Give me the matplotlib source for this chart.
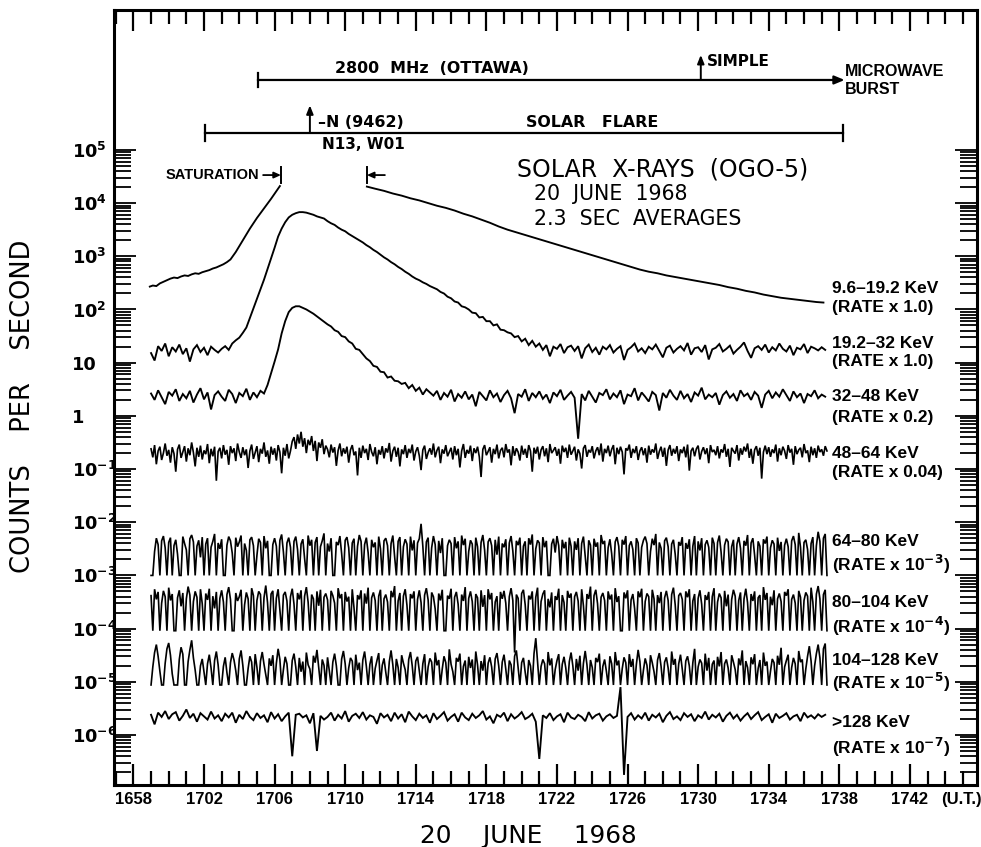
"""Solar X-ray counting rates (OGO-5) through the flare of 20 June 1968."""

import matplotlib

matplotlib.use("Agg")
import matplotlib.pyplot as plt
import numpy as np
from matplotlib.ticker import FixedLocator

# Time is measured in minutes after 1700 UT.
XTICKS = [-2, 2, 6, 10, 14, 18, 22, 26, 30, 34, 38, 42]
XTICK_LABELS = ["1658", "1702", "1706", "1710", "1714", "1718",
                "1722", "1726", "1730", "1734", "1738", "1742"]
YTICKS = [1e5, 1e4, 1e3, 1e2, 1e1, 1e0, 1e-1, 1e-2, 1e-3, 1e-4, 1e-5, 1e-6]
YTICK_LABELS = [r"$\mathbf{10}^{\mathbf{5}}$", r"$\mathbf{10}^{\mathbf{4}}$",
                r"$\mathbf{10}^{\mathbf{3}}$", r"$\mathbf{10}^{\mathbf{2}}$",
                "10", "1",
                r"$\mathbf{10}^{\mathbf{-1}}$", r"$\mathbf{10}^{\mathbf{-2}}$",
                r"$\mathbf{10}^{\mathbf{-3}}$", r"$\mathbf{10}^{\mathbf{-4}}$",
                r"$\mathbf{10}^{\mathbf{-5}}$", r"$\mathbf{10}^{\mathbf{-6}}$"]

# Event timing (minutes after 1700 UT)
BURST_START, BURST_END, BURST_SIMPLE = 5.05, 38.3, 30.15
FLARE_START, FLARE_END, FLARE_MARK = 2.05, 38.2, 8.0
SAT_START, SAT_END = 6.36, 11.23

# 9.6-19.2 keV channel, log10 counts/s; saturated between the two segments
T_RISE = [-1.07, -0.9, -0.7, -0.5, -0.3, -0.1, 0.1, 0.3, 0.5, 0.7, 0.9, 1.1,
          1.3, 1.5, 1.7, 1.9, 2.1, 2.3, 2.5, 2.7, 2.9, 3.1, 3.3, 3.5, 3.8,
          4.2, 4.6, 5.0, 5.4, 5.8, 6.3]
LOG_RISE = [2.43, 2.45, 2.44, 2.49, 2.52, 2.55, 2.58, 2.60, 2.59, 2.62, 2.64,
            2.63, 2.66, 2.68, 2.67, 2.70, 2.72, 2.74, 2.77, 2.79, 2.82, 2.85,
            2.89, 2.94, 3.08, 3.30, 3.52, 3.72, 3.90, 4.08, 4.32]
T_DECAY = [11.23, 11.7, 12.2, 12.7, 13.2, 13.7, 14.2, 14.7, 15.2, 15.7, 16.2,
           16.7, 17.2, 17.7, 18.2, 18.7, 19.2, 19.7, 20.2, 20.7, 21.2, 21.7,
           22.2, 22.7, 23.2, 23.7, 24.2, 24.7, 25.2, 25.7, 26.2, 26.7, 27.2,
           27.7, 28.2, 28.7, 29.2, 29.7, 30.2, 30.7, 31.2, 31.7, 32.2, 32.7,
           33.2, 33.7, 34.2, 34.7, 35.2, 35.7, 36.2, 36.7, 37.1]
LOG_DECAY = [4.31, 4.27, 4.23, 4.18, 4.14, 4.09, 4.05, 4.00, 3.95, 3.91, 3.86,
             3.80, 3.75, 3.69, 3.63, 3.56, 3.50, 3.45, 3.40, 3.35, 3.30, 3.25,
             3.20, 3.15, 3.10, 3.05, 3.00, 2.95, 2.90, 2.85, 2.80, 2.75, 2.71,
             2.68, 2.64, 2.61, 2.58, 2.55, 2.52, 2.49, 2.46, 2.42, 2.39, 2.35,
             2.32, 2.28, 2.25, 2.22, 2.20, 2.18, 2.16, 2.14, 2.13]

# Remaining channels, log10 of scaled rate, sampled from 1659 onward:
# every 0.2 min for the first group, every 0.1 min for the noisier ones.
T0, DT, DT_FINE = -1.0, 0.2, 0.1

LOG_19_32 = [
    1.18, 1.04, 1.31, 1.22, 1.36, 1.12, 1.29, 1.21, 1.34, 1.16,
    1.27, 1.02, 1.25, 1.33, 1.20, 1.28, 1.14, 1.30, 1.24, 1.19,
    1.26, 1.31, 1.24, 1.36, 1.42, 1.47, 1.56, 1.66, 1.84, 2.02,
    2.20, 2.38, 2.56, 2.76, 2.96, 3.16, 3.37, 3.52, 3.64, 3.73,
    3.78, 3.81, 3.83, 3.83, 3.82, 3.80, 3.78, 3.75, 3.73, 3.71,
    3.66, 3.62, 3.59, 3.54, 3.50, 3.47, 3.42, 3.38, 3.34, 3.30,
    3.26, 3.21, 3.17, 3.12, 3.08, 3.03, 2.98, 2.94, 2.89, 2.85,
    2.80, 2.76, 2.71, 2.67, 2.62, 2.58, 2.55, 2.51, 2.48, 2.44,
    2.41, 2.38, 2.33, 2.30, 2.24, 2.21, 2.15, 2.13, 2.06, 2.04,
    2.00, 1.94, 1.93, 1.85, 1.86, 1.78, 1.78, 1.70, 1.72, 1.62,
    1.61, 1.57, 1.55, 1.48, 1.50, 1.40, 1.45, 1.33, 1.41, 1.30,
    1.36, 1.24, 1.33, 1.12, 1.30, 1.26, 1.35, 1.18, 1.29, 1.32,
    1.22, 1.31, 1.08, 1.27, 1.34, 1.20, 1.28, 1.15, 1.30, 1.25,
    1.33, 1.19, 1.26, 1.31, 1.05, 1.24, 1.29, 1.36, 1.21, 1.27,
    1.18, 1.30, 1.25, 1.34, 1.22, 1.10, 1.28, 1.32, 1.19, 1.26,
    1.31, 1.23, 1.37, 1.15, 1.27, 1.29, 1.20, 1.33, 1.06, 1.25,
    1.28, 1.35, 1.21, 1.26, 1.32, 1.17, 1.24, 1.30, 1.38, 1.22,
    1.09, 1.27, 1.31, 1.24, 1.34, 1.19, 1.29, 1.23, 1.36, 1.26,
    1.21, 1.32, 1.14, 1.28, 1.25, 1.35, 1.18, 1.30, 1.27, 1.23,
    1.29, 1.24,
]

LOG_32_48 = [
    0.42, 0.30, 0.48, 0.35, 0.22, 0.45, 0.38, 0.50, 0.28, 0.41,
    0.33, 0.47, 0.25, 0.40, 0.52, 0.31, 0.44, 0.12, 0.39, 0.46,
    0.36, 0.28, 0.49, 0.41, 0.24, 0.43, 0.37, 0.51, 0.30, 0.44,
    0.35, 0.47, 0.42, 0.58, 0.80, 1.02, 1.25, 1.55, 1.78, 1.95,
    2.03, 2.06, 2.06, 2.03, 2.00, 1.96, 1.92, 1.87, 1.82, 1.77,
    1.72, 1.68, 1.61, 1.58, 1.50, 1.48, 1.40, 1.36, 1.26, 1.24,
    1.16, 1.08, 1.03, 0.94, 0.92, 0.83, 0.82, 0.72, 0.74, 0.66,
    0.65, 0.60, 0.62, 0.52, 0.58, 0.47, 0.53, 0.40, 0.50, 0.44,
    0.38, 0.47, 0.30, 0.43, 0.36, 0.49, 0.27, 0.41, 0.34, 0.46,
    0.31, 0.40, 0.18, 0.45, 0.37, 0.29, 0.48, 0.35, 0.42, 0.26,
    0.39, 0.47, 0.33, 0.05, 0.41, 0.36, 0.50, 0.28, 0.43, 0.35,
    0.46, 0.32, 0.40, 0.24, 0.44, 0.37, 0.49, 0.30, 0.38, 0.45,
    0.34, -0.43, 0.41, 0.29, 0.47, 0.36, 0.25, 0.43, 0.39, 0.50,
    0.31, 0.42, 0.35, 0.48, 0.22, 0.40, 0.37, 0.52, 0.29, 0.44,
    0.36, 0.27, 0.45, 0.39, 0.10, 0.43, 0.34, 0.49, 0.38, 0.30,
    0.47, 0.33, 0.41, 0.26, 0.44, 0.38, 0.53, 0.31, 0.40, 0.35,
    0.43, 0.21, 0.39, 0.46, 0.34, 0.41, 0.28, 0.48, 0.37, 0.42,
    0.30, 0.45, 0.38, 0.15, 0.40, 0.47, 0.33, 0.44, 0.36, 0.50,
    0.39, 0.28, 0.46, 0.35, 0.42, 0.24, 0.41, 0.37, 0.48, 0.33,
    0.40, 0.36,
]

LOG_ABOVE_128 = [
    -5.62, -5.80, -5.58, -5.66, -5.55, -5.70, -5.61, -5.57, -5.73, -5.64,
    -5.52, -5.68, -5.60, -5.75, -5.59, -5.65, -5.71, -5.56, -5.69, -5.63,
    -5.74, -5.60, -5.67, -5.58, -5.77, -5.62, -5.70, -5.55, -5.66, -5.72,
    -5.59, -5.68, -5.63, -5.76, -5.57, -5.69, -5.61, -5.74, -5.65, -5.58,
    -6.40, -5.62, -5.60, -5.67, -5.63, -5.78, -5.59, -6.30, -5.64, -5.71,
    -5.66, -5.58, -5.73, -5.62, -5.69, -5.55, -5.75, -5.64, -5.60, -5.68,
    -5.57, -5.71, -5.63, -5.66, -5.79, -5.59, -5.67, -5.62, -5.74, -5.58,
    -5.69, -5.61, -5.76, -5.56, -5.65, -5.72, -5.60, -5.68, -5.63, -5.77,
    -5.59, -5.70, -5.64, -5.57, -5.73, -5.66, -5.61, -5.75, -5.58, -5.67,
    -5.72, -5.60, -5.68, -5.63, -5.55, -5.71, -5.65, -5.78, -5.62, -5.66,
    -5.58, -5.74, -5.61, -5.69, -5.64, -5.57, -5.70, -5.66, -5.60, -5.75,
    -6.45, -5.63, -5.68, -5.59, -5.72, -5.65, -5.61, -5.76, -5.58, -5.67,
    -5.70, -5.62, -5.66, -5.74, -5.57, -5.69, -5.63, -5.60, -5.73, -5.65,
    -5.61, -5.68, -5.64, -5.10, -6.75, -5.66, -5.59, -5.71, -5.63, -5.69,
    -5.58, -5.73, -5.62, -5.67, -5.60, -5.76, -5.64, -5.57, -5.70, -5.65,
    -5.72, -5.59, -5.66, -5.61, -5.74, -5.63, -5.68, -5.56, -5.71, -5.62,
    -5.67, -5.60, -5.75, -5.64, -5.58, -5.69, -5.62, -5.73, -5.65, -5.59,
    -5.70, -5.63, -5.57, -5.72, -5.66, -5.61, -5.77, -5.60, -5.68, -5.64,
    -5.59, -5.71, -5.65, -5.62, -5.74, -5.58, -5.67, -5.63, -5.69, -5.61,
    -5.66, -5.62,
]

LOG_48_64 = [
    -0.62, -0.78, -0.55, -0.91, -0.66, -0.58, -0.83, -0.70, -0.52, -0.75,
    -0.64, -0.88, -0.59, -0.71, -1.05, -0.63, -0.54, -0.79, -0.68, -0.57,
    -0.86, -0.61, -0.74, -0.50, -0.69, -0.95, -0.60, -0.77, -0.56, -0.82,
    -0.65, -0.72, -0.53, -0.89, -0.62, -0.76, -0.58, -1.22, -0.67, -0.60,
    -0.80, -0.55, -0.73, -0.64, -0.92, -0.57, -0.70, -0.61, -0.85, -0.52,
    -0.68, -0.79, -0.59, -0.74, -0.63, -0.98, -0.66, -0.54, -0.81, -0.69,
    -0.57, -0.87, -0.62, -0.71, -0.50, -0.77, -0.65, -0.90, -0.58, -0.73,
    -0.61, -0.84, -0.55, -0.68, -1.08, -0.60, -0.75, -0.53, -0.80, -0.66,
    -0.48, -0.40, -0.62, -0.35, -0.52, -0.30, -0.58, -0.42, -0.70, -0.45,
    -0.55, -0.38, -0.66, -0.47, -0.85, -0.50, -0.60, -0.44, -0.72, -0.56,
    -0.63, -0.78, -0.54, -0.69, -0.59, -0.94, -0.65, -0.52, -0.76, -0.61,
    -0.71, -0.58, -0.88, -0.64, -0.55, -0.74, -0.67, -1.12, -0.60, -0.79,
    -0.56, -0.70, -0.62, -0.83, -0.53, -0.68, -0.76, -0.59, -0.91, -0.64,
    -0.73, -0.57, -0.80, -0.61, -0.69, -0.51, -0.86, -0.66, -0.58, -0.77,
    -0.60, -0.95, -0.63, -0.72, -0.55, -0.79, -0.62, -0.70, -0.54, -0.84,
    -0.67, -0.59, -0.75, -1.02, -0.64, -0.56, -0.81, -0.69, -0.61, -0.73,
    -0.52, -0.78, -0.65, -0.58, -0.89, -0.63, -0.71, -0.55, -0.76, -0.68,
    -0.60, -0.82, -0.57, -0.74, -0.62, -0.97, -0.66, -0.53, -0.79, -0.64,
    -0.71, -0.56, -0.85, -0.61, -0.70, -0.58, -0.77, -1.15, -0.63, -0.55,
    -0.74, -0.67, -0.59, -0.88, -0.62, -0.72, -0.54, -0.80, -0.65, -0.60,
    -0.78, -0.53, -0.69, -0.63, -0.93, -0.57, -0.75, -0.61, -0.68, -0.84,
    -0.56, -0.73, -0.62, -0.79, -0.55, -0.66, -1.05, -0.60, -0.71, -0.58,
    -0.82, -0.64, -0.57, -0.76, -0.61, -0.87, -0.53, -0.70, -0.65, -0.59,
    -0.75, -0.62, -0.90, -0.56, -0.68, -0.60, -0.79, -0.54, -0.73, -0.66,
    -0.58, -0.84, -0.63, -0.71, -0.99, -0.61, -0.55, -0.77, -0.64, -0.69,
    -0.57, -0.80, -0.66, -0.59, -0.74, -0.52, -0.86, -0.62, -0.70, -0.56,
    -0.76, -0.63, -0.55, -0.91, -0.60, -0.72, -0.58, -0.68, -1.10, -0.61,
    -0.65, -0.54, -0.79, -0.62, -0.70, -0.57, -0.83, -0.66, -0.59, -0.74,
    -0.61, -0.88, -0.56, -0.73, -0.63, -0.69, -0.52, -0.81, -0.67, -0.58,
    -0.77, -0.60, -0.94, -0.64, -0.55, -0.75, -0.62, -0.71, -0.57, -0.85,
    -0.63, -0.70, -0.58, -0.78, -0.54, -1.03, -0.66, -0.60, -0.76, -0.62,
    -0.56, -0.82, -0.67, -0.59, -0.72, -0.61, -0.89, -0.55, -0.68, -0.64,
    -0.74, -0.57, -0.80, -0.63, -0.69, -0.53, -0.77, -0.62, -0.96, -0.60,
    -0.66, -0.71, -0.55, -0.84, -0.61, -0.73, -0.58, -0.67, -0.52, -0.79,
    -0.62, -0.90, -0.64, -0.57, -0.75, -0.60, -1.18, -0.68, -0.56, -0.72,
    -0.59, -0.77, -0.63, -0.70, -0.54, -0.86, -0.61, -0.74, -0.58, -0.66,
    -0.81, -0.55, -0.69, -0.62, -0.92, -0.57, -0.72, -0.64, -0.60, -0.78,
    -0.53, -0.70, -0.65, -0.87, -0.58, -0.74, -0.61, -0.79, -0.56, -0.68,
    -0.63, -0.75, -0.57, -0.66,
]

LOG_64_80 = [
    -3.00, -3.00, -2.55, -2.30, -2.42, -3.00, -2.35, -2.26, -2.48, -3.00,
    -2.38, -2.29, -3.00, -2.44, -2.33, -2.60, -3.00, -3.00, -2.27, -2.40,
    -2.52, -3.00, -2.31, -2.24, -2.37, -3.00, -2.45, -2.34, -2.66, -2.28,
    -3.00, -2.41, -2.30, -3.00, -2.47, -2.36, -2.22, -3.00, -2.39, -2.50,
    -2.32, -3.00, -3.00, -2.43, -2.27, -2.35, -2.58, -3.00, -2.29, -2.46,
    -2.37, -2.25, -3.00, -2.40, -2.53, -3.00, -2.33, -2.28, -2.44, -3.00,
    -2.62, -2.31, -2.38, -3.00, -2.26, -2.49, -2.35, -3.00, -3.00, -2.42,
    -2.30, -2.45, -3.00, -2.34, -2.23, -2.56, -3.00, -2.39, -2.29, -2.47,
    -3.00, -2.36, -2.27, -2.51, -3.00, -2.41, -2.32, -2.68, -3.00, -2.25,
    -2.44, -2.33, -3.00, -2.38, -2.28, -3.00, -2.46, -2.35, -2.21, -3.00,
    -2.40, -2.55, -2.30, -3.00, -3.00, -2.37, -2.43, -2.26, -2.59, -3.00,
    -2.34, -2.28, -2.48, -3.00, -2.39, -2.31, -3.00, -2.45, -2.24, -2.36,
    -3.00, -2.42, -2.29, -2.57, -3.00, -2.33, -2.47, -2.38, -3.00, -2.27,
    -2.50, -3.00, -2.35, -2.30, -2.44, -3.00, -2.40, -2.25, -2.64, -3.00,
    -2.36, -2.28, -3.00, -2.46, -2.32, -2.41, -3.00, -2.27, -2.53, -2.34,
    -3.00, -2.39, -2.31, -2.03, -2.45, -3.00, -2.37, -2.29, -3.00, -2.48,
    -2.26, -2.42, -3.00, -2.35, -2.58, -2.30, -3.00, -3.00, -2.44, -2.33,
    -2.40, -3.00, -2.28, -2.49, -2.36, -3.00, -2.25, -2.43, -2.31, -3.00,
    -2.55, -2.34, -2.41, -3.00, -2.29, -2.46, -3.00, -2.38, -2.24, -2.52,
    -3.00, -2.37, -2.30, -2.44, -3.00, -2.33, -2.61, -2.27, -3.00, -2.40,
    -2.47, -2.32, -3.00, -2.39, -2.26, -2.54, -3.00, -2.35, -2.43, -2.29,
    -3.00, -2.45, -2.36, -3.00, -2.30, -2.42, -2.23, -3.00, -2.50, -2.34,
    -2.39, -3.00, -2.28, -2.47, -2.35, -3.00, -3.00, -2.41, -2.31, -2.57,
    -2.26, -2.44, -3.00, -2.33, -2.49, -2.37, -3.00, -2.29, -2.45, -3.00,
    -2.36, -2.52, -2.30, -3.00, -2.40, -2.27, -2.63, -3.00, -2.34, -2.43,
    -3.00, -2.31, -2.46, -2.38, -3.00, -2.24, -2.41, -2.35, -3.00, -2.48,
    -2.32, -2.59, -3.00, -2.37, -2.28, -2.45, -3.00, -2.33, -2.42, -2.26,
    -3.00, -2.44, -2.36, -2.51, -3.00, -2.30, -2.39, -3.00, -2.47, -2.34,
    -2.27, -2.40, -3.00, -2.55, -2.31, -2.43, -2.22, -3.00, -2.38, -2.49,
    -3.00, -2.35, -2.29, -2.46, -3.00, -2.41, -2.33, -2.60, -3.00, -2.37,
    -2.44, -2.28, -3.00, -2.39, -2.50, -2.32, -3.00, -2.45, -2.26, -3.00,
    -2.36, -2.53, -2.30, -3.00, -2.42, -2.34, -2.47, -3.00, -2.29, -2.40,
    -3.00, -2.38, -2.25, -2.56, -3.00, -2.43, -2.31, -2.37, -3.00, -2.46,
    -2.33, -3.00, -2.41, -2.28, -2.49, -3.00, -2.35, -2.44, -2.24, -3.00,
    -2.39, -2.30, -2.62, -3.00, -2.36, -2.45, -3.00, -2.32, -2.40, -2.27,
    -3.00, -2.48, -2.34, -2.41, -3.00, -2.29, -2.54, -2.37, -3.00, -2.43,
    -2.31, -2.46, -3.00, -2.35, -2.26, -2.42, -3.00, -2.20, -2.47, -3.00,
    -2.38, -2.33, -2.51, -3.00, -2.40, -2.28, -3.00, -2.44, -2.18, -2.36,
    -3.00, -2.30, -2.22, -3.00,
]

LOG_80_104 = [
    -3.38, -4.04, -3.26, -3.45, -3.31, -4.04, -3.52, -3.29, -3.40, -4.04,
    -3.23, -3.47, -3.35, -4.04, -4.04, -3.42, -3.28, -3.58, -3.33, -4.04,
    -3.44, -3.21, -3.37, -4.04, -3.49, -3.30, -3.41, -4.04, -3.26, -3.53,
    -4.04, -3.34, -3.46, -3.25, -4.04, -3.39, -3.62, -3.31, -4.04, -3.43,
    -3.28, -3.50, -4.04, -3.36, -3.22, -3.45, -4.04, -4.04, -3.33, -3.48,
    -3.40, -3.27, -4.04, -3.55, -3.32, -3.44, -4.04, -3.24, -3.38, -4.04,
    -3.47, -3.30, -3.36, -4.04, -3.42, -3.19, -3.51, -4.04, -3.35, -3.29,
    -4.04, -3.43, -3.26, -3.66, -4.04, -3.37, -3.31, -3.48, -4.04, -3.40,
    -3.25, -3.54, -4.04, -3.33, -3.45, -3.28, -4.04, -3.39, -3.22, -3.50,
    -4.04, -3.36, -3.44, -4.04, -3.30, -3.57, -3.27, -4.04, -3.41, -3.34,
    -3.46, -4.04, -3.29, -3.38, -3.52, -4.04, -3.24, -3.43, -3.35, -4.04,
    -3.31, -3.49, -3.40, -4.04, -3.26, -3.61, -4.04, -3.37, -3.45, -3.28,
    -4.04, -3.34, -3.53, -3.23, -4.04, -3.42, -3.32, -3.47, -4.04, -3.39,
    -3.27, -4.04, -3.44, -3.36, -3.50, -4.04, -3.29, -3.41, -3.20, -4.04,
    -3.48, -3.33, -4.04, -3.39, -3.26, -3.56, -4.04, -3.35, -3.43, -3.30,
    -4.04, -3.45, -3.28, -3.51, -4.04, -3.37, -3.24, -3.46, -4.04, -3.32,
    -3.40, -3.63, -4.04, -3.34, -3.47, -3.27, -4.04, -4.04, -3.38, -3.44,
    -3.25, -4.04, -3.41, -3.31, -3.54, -4.04, -3.36, -3.48, -3.22, -4.04,
    -3.43, -3.30, -3.49, -4.04, -3.35, -3.42, -4.04, -3.28, -3.59, -3.37,
    -4.04, -3.26, -3.45, -3.33, -4.04, -3.50, -3.39, -4.04, -3.31, -3.44,
    -3.29, -3.52, -4.04, -3.40, -3.24, -3.47, -4.45, -3.36, -3.43, -4.04,
    -3.34, -3.27, -3.55, -4.04, -3.38, -3.45, -3.30, -4.04, -3.41, -3.23,
    -4.04, -3.49, -3.35, -3.28, -4.04, -3.44, -3.60, -3.32, -4.04, -3.39,
    -3.46, -3.25, -4.04, -3.37, -3.51, -4.04, -3.29, -3.42, -3.34, -4.04,
    -3.40, -3.31, -3.48, -4.04, -3.26, -3.57, -4.04, -3.35, -3.44, -3.21,
    -4.04, -3.38, -3.27, -3.53, -4.04, -3.41, -3.33, -3.47, -4.04, -3.30,
    -3.45, -3.36, -4.04, -3.24, -3.50, -3.39, -4.04, -4.04, -3.32, -3.43,
    -3.28, -4.04, -3.46, -3.35, -3.62, -4.04, -3.30, -3.41, -3.25, -4.04,
    -3.49, -3.34, -3.40, -4.04, -3.27, -3.44, -4.04, -3.37, -3.52, -3.31,
    -4.04, -3.42, -3.29, -3.47, -4.04, -3.36, -3.23, -3.55, -4.04, -3.38,
    -3.33, -3.45, -4.04, -3.30, -3.41, -3.26, -4.04, -3.48, -3.35, -4.04,
    -3.43, -3.28, -3.54, -4.04, -3.37, -3.46, -3.31, -4.04, -3.40, -3.24,
    -4.04, -3.50, -3.34, -3.42, -4.04, -3.29, -3.58, -3.36, -4.04, -3.45,
    -3.27, -3.39, -4.04, -3.47, -3.32, -4.04, -3.44, -3.25, -3.51, -4.04,
    -3.35, -3.48, -3.30, -4.04, -3.42, -3.37, -4.04, -3.22, -3.46, -3.33,
    -4.04, -3.40, -3.56, -3.28, -4.04, -3.44, -3.34, -3.49, -4.04, -3.31,
    -3.38, -3.26, -4.04, -3.45, -3.36, -3.52, -4.04, -3.29, -3.41, -4.04,
    -3.47, -3.32, -3.39, -4.04, -3.23, -3.50, -4.04, -3.35, -3.20, -3.44,
    -4.04, -3.36, -3.27, -4.04,
]

LOG_104_128 = [
    -5.06, -4.72, -4.45, -4.30, -4.52, -4.80, -5.06, -5.06, -4.65, -4.38,
    -4.27, -4.50, -4.85, -5.06, -5.06, -5.06, -4.58, -4.35, -4.48, -5.06,
    -5.06, -4.62, -4.40, -4.22, -4.55, -4.78, -5.06, -5.06, -4.70, -4.57,
    -4.82, -5.06, -4.66, -4.49, -4.74, -5.06, -4.60, -4.43, -4.68, -5.06,
    -5.06, -4.71, -4.54, -4.83, -5.06, -4.64, -4.46, -4.59, -4.79, -5.06,
    -4.57, -4.41, -4.69, -5.06, -5.06, -4.75, -4.52, -4.63, -5.06, -4.48,
    -4.73, -5.06, -4.61, -4.44, -4.67, -4.86, -5.06, -4.56, -4.70, -4.50,
    -5.06, -4.65, -4.38, -4.58, -5.06, -4.77, -4.53, -4.66, -5.06, -5.06,
    -4.60, -4.47, -4.72, -5.06, -4.55, -4.81, -4.62, -5.06, -4.45, -4.68,
    -4.76, -5.06, -4.51, -4.64, -4.40, -4.73, -5.06, -4.58, -4.69, -5.06,
    -4.54, -4.79, -5.06, -4.63, -4.47, -4.70, -5.06, -5.06, -4.57, -4.42,
    -4.66, -5.06, -4.74, -4.55, -4.61, -5.06, -4.49, -4.78, -4.64, -5.06,
    -4.59, -4.43, -4.71, -5.06, -4.67, -4.52, -5.06, -4.75, -4.60, -4.46,
    -5.06, -4.69, -4.56, -4.82, -5.06, -4.62, -4.41, -4.68, -5.06, -4.57,
    -4.73, -5.06, -4.50, -4.65, -4.77, -5.06, -4.58, -4.44, -4.70, -5.06,
    -4.61, -4.53, -4.80, -5.06, -4.66, -4.48, -5.06, -4.72, -4.56, -4.63,
    -5.06, -4.45, -4.69, -4.59, -5.06, -4.76, -4.52, -4.64, -5.06, -4.39,
    -4.67, -4.81, -5.06, -4.55, -4.62, -4.47, -5.06, -4.71, -4.60, -5.06,
    -4.53, -4.74, -4.58, -5.06, -4.43, -4.68, -5.06, -4.61, -4.79, -4.50,
    -5.06, -4.65, -4.54, -4.72, -5.06, -4.57, -4.46, -4.70, -5.06, -4.63,
    -4.49, -4.76, -5.06, -4.60, -4.68, -5.06, -4.52, -4.41, -4.73, -5.06,
    -4.64, -4.55, -4.82, -5.06, -4.59, -4.70, -5.06, -4.47, -4.18, -4.62,
    -5.06, -4.71, -4.58, -4.66, -5.06, -4.44, -4.69, -4.56, -5.06, -4.77,
    -4.60, -4.48, -5.06, -4.67, -4.53, -4.74, -5.06, -4.62, -4.45, -4.70,
    -5.06, -4.57, -4.79, -4.51, -5.06, -4.65, -4.42, -4.68, -5.06, -4.59,
    -4.73, -5.06, -4.55, -4.63, -4.47, -5.06, -4.71, -4.58, -4.80, -5.06,
    -4.52, -4.66, -5.06, -4.44, -4.69, -4.60, -5.06, -4.75, -4.54, -4.64,
    -5.06, -4.48, -4.72, -4.57, -5.06, -4.67, -4.40, -4.62, -5.06, -4.78,
    -4.56, -4.69, -5.06, -4.50, -4.64, -4.81, -5.06, -4.59, -4.46, -4.71,
    -5.06, -4.63, -4.54, -4.74, -5.06, -4.43, -4.68, -4.57, -5.06, -4.66,
    -4.49, -4.76, -5.06, -4.61, -4.52, -4.70, -5.06, -4.64, -4.38, -5.06,
    -4.72, -4.58, -4.65, -5.06, -4.47, -4.79, -4.55, -5.06, -4.67, -4.60,
    -5.06, -4.53, -4.71, -4.44, -5.06, -4.66, -4.58, -4.74, -5.06, -4.50,
    -4.63, -4.77, -5.06, -4.56, -4.69, -4.41, -5.06, -4.61, -4.73, -5.06,
    -4.54, -4.67, -4.48, -5.06, -4.75, -4.59, -5.06, -4.45, -4.70, -4.62,
    -5.06, -4.80, -4.57, -4.64, -5.06, -4.51, -4.68, -4.36, -5.06, -4.72,
    -4.60, -4.49, -5.06, -4.73, -4.55, -4.66, -5.06, -4.42, -4.63, -4.58,
    -5.06, -4.76, -4.52, -4.33, -4.61, -5.06, -4.70, -4.47, -4.30, -4.55,
    -5.06, -4.38, -4.28, -5.06,
]

CHANNELS = ["9.6\u201319.2 KeV", "19.2\u201332 KeV", "32\u201348 KeV",
            "48\u201364 KeV", "64\u201380 KeV", "80\u2013104 KeV",
            "104\u2013128 KeV", ">128 KeV"]
RATES = ["(RATE x 1.0)", "(RATE x 1.0)", "(RATE x 0.2)", "(RATE x 0.04)",
         r"(RATE x 10$^{\mathbf{-3}}$)", r"(RATE x 10$^{\mathbf{-4}}$)",
         r"(RATE x 10$^{\mathbf{-5}}$)", r"(RATE x 10$^{\mathbf{-7}}$)"]

# label placement, axes-fraction heights of the two label lines
LABEL_Y = [(0.641, 0.616), (0.570, 0.546), (0.501, 0.474), (0.428, 0.403),
           (0.314, 0.284), (0.235, 0.204), (0.161, 0.132), (0.081, 0.049)]
LABEL_X = 37.6

plt.rcParams["font.family"] = ["DejaVu Sans"]
plt.rcParams["mathtext.fontset"] = "dejavusans"
SMALL = dict(family=["Liberation Sans", "DejaVu Sans"], fontweight="bold")


def main():
    fig = plt.figure(figsize=(9.81, 8.47), dpi=100)
    ax = fig.add_axes([0.1162, 0.0732, 0.8797, 0.915])
    ax.set_yscale("log")
    ax.set_xlim(-3.1, 45.8)
    ax.set_ylim(10 ** -6.94, 10 ** 7.63)

    line_kw = dict(color="black", lw=1.35, solid_joinstyle="miter")
    ax.plot(T_RISE, 10 ** np.array(LOG_RISE), **line_kw)
    ax.plot(T_DECAY, 10 ** np.array(LOG_DECAY), **line_kw)
    for series in (LOG_19_32, LOG_32_48, LOG_ABOVE_128):
        t = T0 + DT * np.arange(len(series))
        ax.plot(t, 10 ** np.array(series), **line_kw)
    for series in (LOG_48_64, LOG_64_80, LOG_80_104, LOG_104_128):
        t = T0 + DT_FINE * np.arange(len(series))
        ax.plot(t, 10 ** np.array(series), color="black", lw=1.2,
                solid_joinstyle="miter")

    # axes frame and ticks
    for sp in ax.spines.values():
        sp.set_linewidth(2.2)
    ax.xaxis.set_major_locator(FixedLocator(XTICKS))
    ax.xaxis.set_minor_locator(FixedLocator(np.arange(-3, 46)))
    ax.set_xticklabels(XTICK_LABELS, fontsize=12, **SMALL)
    ax.yaxis.set_major_locator(FixedLocator(YTICKS))
    minors = [m * 10.0 ** k for k in range(-7, 5) for m in range(2, 10)]
    ax.yaxis.set_minor_locator(FixedLocator([v for v in minors if v > 10 ** -6.94]))
    ax.set_yticklabels(YTICK_LABELS, fontsize=12.8, fontweight="bold", ha="left")
    ax.tick_params(axis="x", which="both", direction="in", top=True, width=1.6, pad=5)
    ax.tick_params(axis="x", which="major", length=15)
    ax.tick_params(axis="x", which="minor", length=10)
    ax.tick_params(axis="y", which="both", direction="in", right=True, width=1.3, pad=30)
    ax.tick_params(axis="y", which="major", length=16)
    ax.tick_params(axis="y", which="minor", length=12)

    trans = ax.get_xaxis_transform()
    ax.text(44.9, -0.019, "(U.T.)", transform=trans, ha="center", va="center",
            fontsize=12, **SMALL)

    # channel labels on the right
    for name, rate, (y1, y2) in zip(CHANNELS, RATES, LABEL_Y):
        ax.text(LABEL_X, y1, name, transform=trans, ha="left", va="center",
                fontsize=12.5, **SMALL)
        ax.text(LABEL_X, y2, rate, transform=trans, ha="left", va="center",
                fontsize=12.5, **SMALL)

    arrow = dict(color="black", shrinkA=0, shrinkB=0)

    # 2800 MHz burst bar
    yb = 0.9097
    ax.annotate("", xy=(BURST_END, yb), xytext=(BURST_START, yb), xycoords=trans,
                textcoords=trans,
                arrowprops=dict(arrowstyle="-|>,head_length=0.6,head_width=0.25",
                                lw=1.6, **arrow))
    ax.plot([BURST_START, BURST_START], [yb - 0.009, yb + 0.009], transform=trans,
            color="black", lw=1.6)
    ax.text(14.9, 0.924, "2800  MHz  (OTTAWA)", transform=trans, ha="center",
            va="center", fontsize=11.4, fontweight="bold")
    ax.annotate("", xy=(BURST_SIMPLE, 0.942), xytext=(BURST_SIMPLE, yb),
                xycoords=trans, textcoords=trans,
                arrowprops=dict(arrowstyle="-|>,head_length=0.5,head_width=0.2",
                                lw=1.4, **arrow))
    ax.text(BURST_SIMPLE + 0.35, 0.933, "SIMPLE", transform=trans, ha="left",
            va="center", fontsize=11, fontweight="bold")
    ax.text(38.3, 0.921, "MICROWAVE", transform=trans, ha="left", va="center",
            fontsize=11.5, **SMALL)
    ax.text(38.3, 0.898, "BURST", transform=trans, ha="left", va="center",
            fontsize=11.5, **SMALL)

    # solar flare bar
    yf = 0.8413
    ax.plot([FLARE_START, FLARE_END], [yf, yf], transform=trans, color="black", lw=1.6)
    for x in (FLARE_START, FLARE_END):
        ax.plot([x, x], [yf - 0.01, yf + 0.01], transform=trans, color="black", lw=1.6)
    ax.annotate("", xy=(FLARE_MARK, 0.877), xytext=(FLARE_MARK, yf),
                xycoords=trans, textcoords=trans,
                arrowprops=dict(arrowstyle="-|>,head_length=0.5,head_width=0.2",
                                lw=1.4, **arrow))
    ax.text(FLARE_MARK + 0.45, 0.855, "\u2013N (9462)", transform=trans, ha="left",
            va="center", fontsize=11.4, fontweight="bold")
    ax.text(FLARE_MARK + 0.7, 0.827, "N13, W01", transform=trans, ha="left",
            va="center", fontsize=11, fontweight="bold")
    ax.text(24.0, 0.855, "SOLAR   FLARE", transform=trans, ha="center",
            va="center", fontsize=11.4, fontweight="bold")

    # saturation interval of the lowest energy channel
    ys = 0.787
    ax.text(5.15, ys, "SATURATION", transform=trans, ha="right", va="center",
            fontsize=10.5, **SMALL)
    for x0, x1 in ((5.35, SAT_START), (12.25, SAT_END)):
        ax.annotate("", xy=(x1, ys), xytext=(x0, ys), xycoords=trans,
                    textcoords=trans,
                    arrowprops=dict(arrowstyle="-|>,head_length=0.4,head_width=0.18",
                                    lw=1.3, **arrow))
        ax.plot([x1, x1], [ys - 0.01, ys + 0.01], transform=trans, color="black", lw=1.4)

    # title block
    fig.text(0.527, 0.7993, "SOLAR  X-RAYS  (OGO-5)", ha="left", va="center",
             fontsize=17)
    fig.text(0.5443, 0.7710, "20  JUNE  1968", ha="left", va="center", fontsize=14.8)
    fig.text(0.5443, 0.7414, "2.3  SEC  AVERAGES", ha="left", va="center",
             fontsize=14.8)

    fig.text(0.023, 0.52, "COUNTS    PER    SECOND", rotation=90, ha="center",
             va="center", fontsize=18.5)
    fig.text(0.5387, 0.013, "20    JUNE    1968", ha="center", va="center",
             fontsize=17.8)

    fig.savefig("out.png", dpi=100)
    plt.close(fig)


if __name__ == "__main__":
    main()
